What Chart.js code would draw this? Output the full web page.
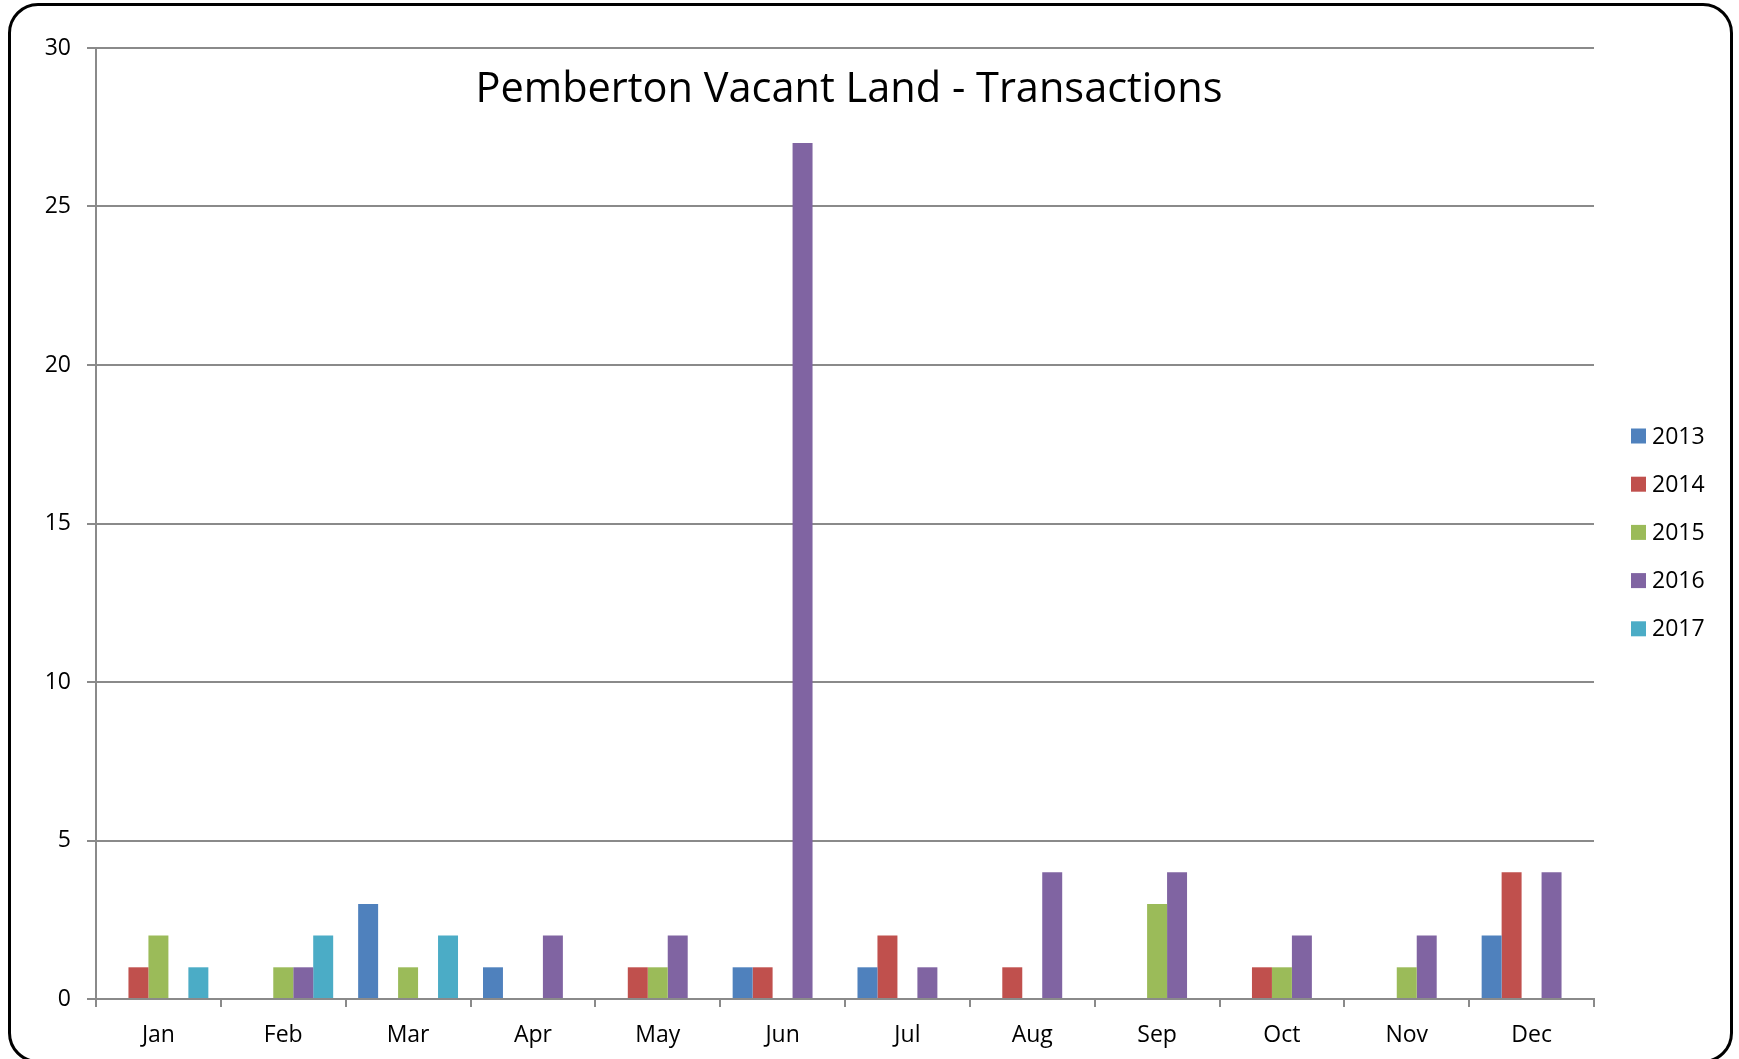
<!DOCTYPE html>
<html>
<head>
<meta charset="utf-8">
<script src="https://cdn.jsdelivr.net/npm/chart.js@4/dist/chart.umd.min.js"></script>
<style>
  html, body { margin: 0; padding: 0; background: #fff; }
  body { width: 1739px; height: 1059px; position: relative; overflow: hidden; }
  #frame { position: absolute; left: 8px; top: 3px; width: 1725px; height: 1060px; box-sizing: border-box;
           border: 3px solid #000; border-radius: 30px; }
  #c { position: absolute; left: 0; top: 0; }
</style>
</head>
<body>
<div id="frame"></div>
<canvas id="c" width="1739" height="1059"></canvas>
<script>
const titleText = "Pemberton Vacant Land - Transactions";
const months = ["Jan","Feb","Mar","Apr","May","Jun","Jul","Aug","Sep","Oct","Nov","Dec"];
const seriesNames = ["2013","2014","2015","2016","2017"];
const v2013 = [0,0,3,1,0,1,1,0,0,0,0,2];
const v2014 = [1,0,0,0,1,1,2,1,0,1,0,4];
const v2015 = [2,1,1,0,1,0,0,0,3,1,1,0];
const v2016 = [0,1,0,2,2,27,1,4,4,2,2,4];
const v2017 = [1,2,2,0,0,0,0,0,0,0,0,0];
const yTicks = [0,5,10,15,20,25,30];
const colors = ["#4F81BD","#C0504D","#9BBB59","#8064A2","#4BACC6"];

const FONT = "'Open Sans', 'DejaVu Sans', sans-serif";
const GRID = "#8a8a8a";

const allValues = [v2013, v2014, v2015, v2016, v2017];

const overlayPlugin = {
  id: 'overlay',
  afterDraw(chart) {
    const ctx = chart.ctx;
    ctx.save();
    // title
    ctx.fillStyle = '#000';
    ctx.font = "41.5px " + FONT;
    ctx.textAlign = 'center';
    ctx.textBaseline = 'alphabetic';
    ctx.fillText(titleText, 849, 102);
    // legend
    ctx.font = "23px " + FONT;
    ctx.textAlign = 'left';
    ctx.textBaseline = 'middle';
    chart.data.datasets.forEach((ds, i) => {
      const cy = 436 + i * 48.2;
      ctx.fillStyle = ds.backgroundColor;
      ctx.fillRect(1631, cy - 7.5, 15, 15);
      ctx.fillStyle = '#000';
      ctx.fillText(ds.label, 1652, cy + 1);
    });
    ctx.restore();
  }
};

new Chart(document.getElementById('c'), {
  type: 'bar',
  data: {
    labels: months,
    datasets: seriesNames.map((n, i) => ({
      label: n,
      data: allValues[i],
      backgroundColor: colors[i],
      borderWidth: 0,
      categoryPercentage: 0.8,
      barPercentage: 1.0
    }))
  },
  options: {
    responsive: false,
    animation: false,
    layout: { padding: { top: 48, right: 145, bottom: 0, left: 0 } },
    plugins: {
      legend: { display: false },
      title: { display: false },
      tooltip: { enabled: false }
    },
    scales: {
      x: {
        grid: { display: true, drawOnChartArea: false, drawTicks: true, tickLength: 8, color: GRID, lineWidth: 2, offset: true },
        border: { display: true, color: GRID, width: 2 },
        ticks: { color: '#000', font: { family: FONT, size: 23 }, padding: 15, maxRotation: 0 },
        afterFit(scale) { scale.height = 60; }
      },
      y: {
        min: 0, max: 30,
        afterBuildTicks(scale) { scale.ticks = yTicks.map(v => ({ value: v })); },
        grid: { color: GRID, lineWidth: 2, tickLength: 9, drawTicks: true },
        border: { display: true, color: GRID, width: 2 },
        ticks: { color: '#000', font: { family: FONT, size: 23 }, padding: 16 },
        afterFit(scale) { scale.width = 96; }
      }
    }
  },
  plugins: [overlayPlugin]
});
</script>
</body>
</html>
